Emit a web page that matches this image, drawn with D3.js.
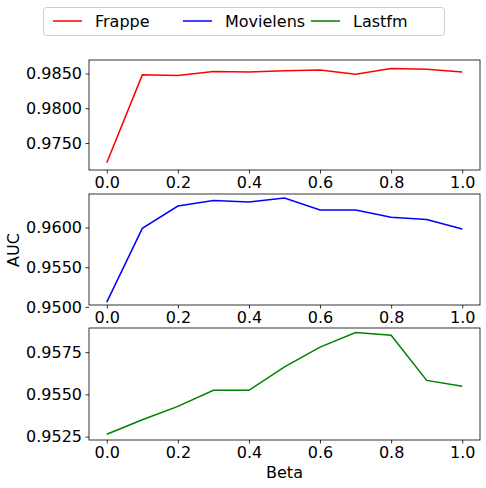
<!DOCTYPE html>
<html>
<head>
<meta charset="utf-8">
<script src="https://cdn.jsdelivr.net/npm/d3@7"></script>
<style>
  body { margin: 0; background: #fff; }
  text { font-family: "DejaVu Sans", sans-serif; }
</style>
</head>
<body>
<div id="chart"></div>
<script>
// data
var betas = [0.0, 0.1, 0.2, 0.3, 0.4, 0.5, 0.6, 0.7, 0.8, 0.9, 1.0];
var frappe = [0.97216, 0.9848, 0.9847, 0.9853, 0.9852, 0.9854, 0.9855, 0.9849, 0.9857, 0.9856, 0.9852];
var movielens = [0.9506, 0.9599, 0.9627, 0.9634, 0.9632, 0.9637, 0.9622, 0.9622, 0.9613, 0.9610, 0.9598];
var lastfm = [0.95264, 0.9535, 0.95429, 0.95524, 0.95524, 0.95663, 0.9578, 0.95866, 0.9585, 0.95583, 0.95548];
var xTicks = [0, 0.2, 0.4, 0.6, 0.8, 1.0];

var panels = [
  { name: "Frappe", color: "red", values: frappe, domain: [0.97111, 0.98694], ticks: [0.975, 0.98, 0.985], fmt: ".4f", top: 60, bottom: 170 },
  { name: "Movielens", color: "blue", values: movielens, domain: [0.95024, 0.96422], ticks: [0.95, 0.955, 0.96], fmt: ".4f", top: 194, bottom: 305 },
  { name: "Lastfm", color: "green", values: lastfm, domain: [0.9523, 0.95893], ticks: [0.9525, 0.955, 0.9575], fmt: ".4f", top: 328, bottom: 440 }
];

var svgWidth = 486, svgHeight = 488;
var left = 89, right = 480;

var svg = d3.select("#chart").append("svg")
  .attr("width", svgWidth)
  .attr("height", svgHeight);

var x = d3.scaleLinear().domain([-0.05, 1.05]).range([left, right]);

panels.forEach(function(p) {
  var y = d3.scaleLinear().domain(p.domain).range([p.bottom, p.top]);

  var g = svg.append("g");

  g.append("path")
    .datum(betas)
    .attr("fill", "none")
    .attr("stroke", p.color)
    .attr("stroke-width", 1.5)
    .attr("d", d3.line().x(d => x(d)).y((d, i) => y(p.values[i])));

  // frame
  g.append("rect")
    .attr("x", left).attr("y", p.top)
    .attr("width", right - left).attr("height", p.bottom - p.top)
    .attr("fill", "none").attr("stroke", "black").attr("stroke-width", 0.8);

  var xa = g.append("g")
    .attr("transform", `translate(0, ${p.bottom})`)
    .call(d3.axisBottom(x).tickValues(xTicks).tickFormat(d3.format(".1f")).tickSize(3.5).tickPadding(3.5));
  var ya = g.append("g")
    .attr("transform", `translate(${left}, 0)`)
    .call(d3.axisLeft(y).tickValues(p.ticks).tickFormat(d3.format(p.fmt)).tickSize(3.5).tickPadding(3.5));

  [xa, ya].forEach(function(a) {
    a.select(".domain").remove();
    a.selectAll("text").attr("font-size", 16).attr("fill", "black")
      .style("font-family", "DejaVu Sans, sans-serif");
    a.selectAll("line").attr("stroke", "black").attr("stroke-width", 0.8);
  });
});

// axis labels
svg.append("text")
  .attr("x", (left + right) / 2).attr("y", 478)
  .attr("text-anchor", "middle").attr("font-size", 16)
  .text("Beta");

svg.append("text")
  .attr("transform", "rotate(-90)")
  .attr("x", -250).attr("y", 19)
  .attr("text-anchor", "middle").attr("font-size", 16)
  .text("AUC");

// legend
var legend = svg.append("g");
legend.append("rect")
  .attr("x", 43.5).attr("y", 7.5).attr("width", 401).attr("height", 28)
  .attr("rx", 3).attr("fill", "white").attr("stroke", "#ccc");

var legX = [53, 183, 311];
panels.forEach(function(p, i) {
  legend.append("line")
    .attr("x1", legX[i]).attr("x2", legX[i] + 29)
    .attr("y1", 21).attr("y2", 21)
    .attr("stroke", p.color).attr("stroke-width", 1.5);
  legend.append("text")
    .attr("x", legX[i] + 42).attr("y", 27)
    .attr("font-size", 16)
    .text(p.name);
});
</script>
</body>
</html>
